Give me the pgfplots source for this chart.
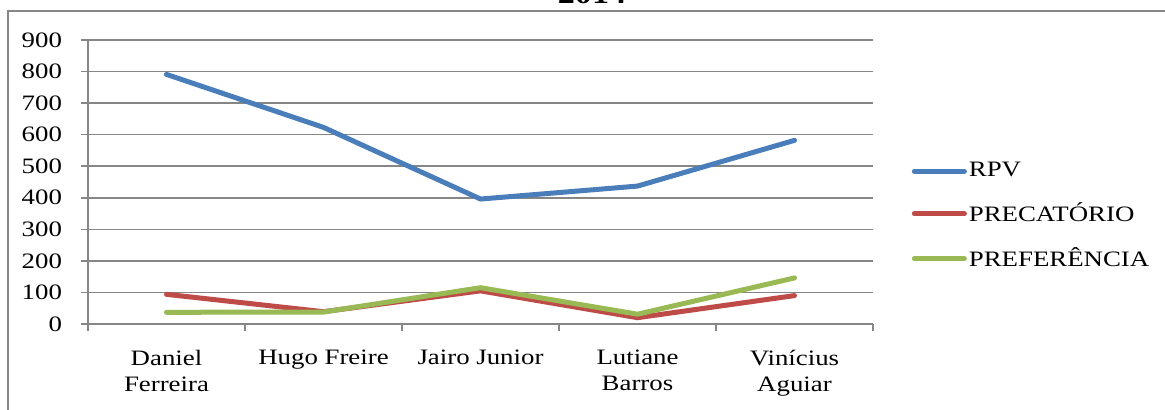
\documentclass[border=0pt]{standalone}
\usepackage{fontspec}
\setmainfont{Liberation Serif}[FakeStretch=1.22]
\usepackage{pgfplots}
\pgfplotsset{compat=1.18}
\definecolor{cblue}{HTML}{4A7EBB}
\definecolor{cred}{HTML}{BE4B48}
\definecolor{cgreen}{HTML}{98B954}
\definecolor{cgrid}{HTML}{868686}
\begin{document}
\begin{tikzpicture}[x=1pt,y=1pt]
\path[use as bounding box, clip] (0,0) rectangle (582.5,205);
\draw[cgrid, line width=0.8pt] (4,199.5) rectangle (600,-10);
\node[anchor=base, font=\fontsize{14}{16}\selectfont\bfseries] at (296,203) {2014};
\begin{axis}[
  at={(44pt,43pt)}, anchor=south west,
  scale only axis, width=392.5pt, height=142pt,
  xmin=-0.5, xmax=4.5, ymin=0, ymax=900,
  axis lines=left,
  axis line style={draw=cgrid, line width=0.8pt, -},
  every tick/.style={cgrid, line width=0.8pt},
  tick align=outside,
  xtick={0,1,2,3,4},
  xticklabels={{Daniel\\Ferreira},{Hugo Freire},{Jairo Junior},{Lutiane\\Barros},{Vinícius\\Aguiar}},
  major x tick style={draw=none},
  minor xtick={-0.5,0.5,1.5,2.5,3.5,4.5},
  minor tick length=3.5pt,
  ytick={0,100,...,900},
  major tick length=3.5pt,
  ymajorgrids,
  grid style={cgrid, line width=0.8pt},
  tick label style={font=\fontsize{11}{13}\selectfont},
  xticklabel style={align=center, yshift=-6pt},
  yticklabel style={xshift=-6pt},
  /pgf/number format/assume math mode=true,
  legend style={draw=none, fill=none, at={(1.049,0.380)}, anchor=west,
    inner sep=0pt, row sep=7.5pt, font=\fontsize{11}{13}\selectfont,
    nodes={inner xsep=1pt},
    /tikz/every even column/.append style={column sep=0pt}},
  legend cell align=left,
  legend image code/.code={\draw[#1, line width=2.5pt, line cap=round] (0pt,0pt) -- (25pt,0pt);},
  every axis plot/.append style={line width=2.5pt, line cap=round, line join=round},
  clip=false,
]
\addplot[cblue] coordinates {(0,791) (1,623) (2,396) (3,437) (4,582)};
\addlegendentry{RPV}
\addplot[cred] coordinates {(0,94) (1,39) (2,105) (3,20) (4,90)};
\addlegendentry{PRECATÓRIO}
\addplot[cgreen] coordinates {(0,37) (1,38) (2,115) (3,31) (4,146)};
\addlegendentry{PREFERÊNCIA}
\end{axis}
\end{tikzpicture}
\end{document}
